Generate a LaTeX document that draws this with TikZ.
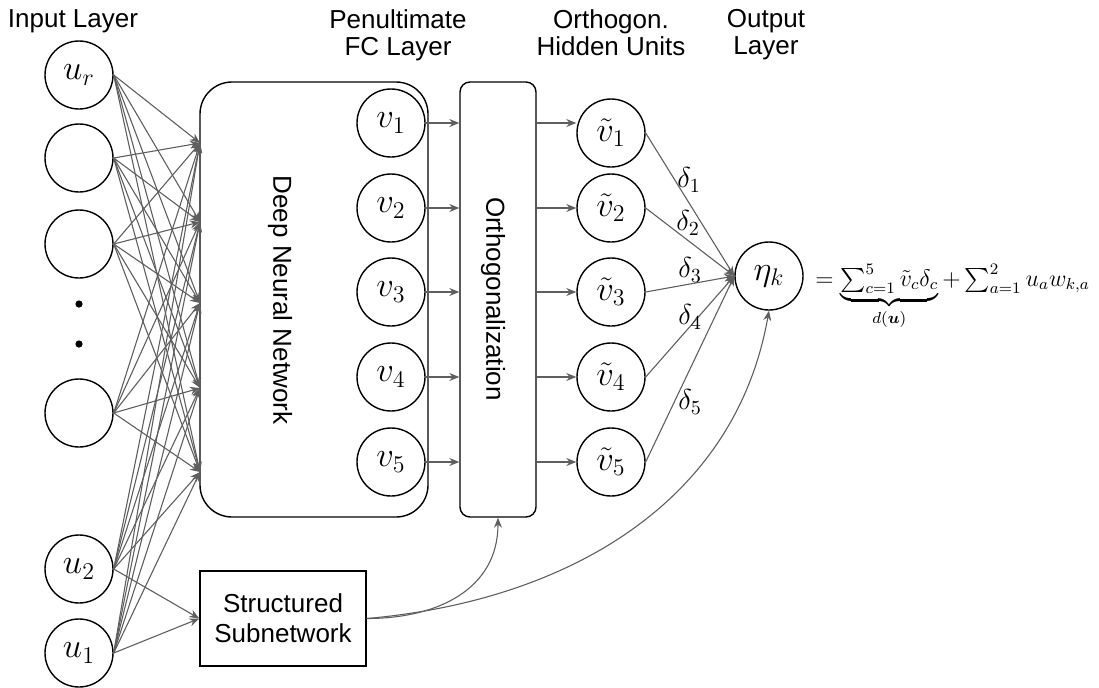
\documentclass[tikz,border=0pt]{standalone}
\usepackage[no-math]{fontspec}
\setmainfont{Liberation Sans}
\usepackage{amsmath}
\usetikzlibrary{arrows.meta}
\definecolor{linegray}{RGB}{95,95,95}

\tikzset{
    unit/.style={circle, draw, line width=0.7pt, minimum size=34pt, inner sep=0pt, font=\fontsize{17}{19}\selectfont},
    dot/.style={circle, fill, inner sep=0pt, minimum size=3.6pt},
    conn/.style={draw=linegray, line width=0.55pt, -{Stealth[length=5pt,width=4pt]}},
    dnnbox/.style={draw, line width=0.7pt, rounded corners=16pt},
    orthbox/.style={draw, line width=0.7pt, rounded corners=5pt},
    ssbox/.style={draw, line width=0.7pt, align=center, minimum width=83pt, minimum height=47.5pt, inner sep=0pt, font=\fontsize{13}{15}\selectfont},
    hdr/.style={anchor=north, align=center, inner sep=0pt, font=\fontsize{13}{13.5}\selectfont},
    lbl/.style={inner sep=0pt, font=\fontsize{14.5}{16}\selectfont},
    eqn/.style={inner sep=0pt, anchor=base west, font=\fontsize{12}{14}\selectfont},
    boxtext/.style={rotate=-90, inner sep=0pt, font=\fontsize{13}{15}\selectfont},
}

\begin{document}
\begin{tikzpicture}[x=0.5pt, y=-0.5pt]
    \useasboundingbox (0,0) rectangle (1099,687);

    % column headings
    \node[hdr] (hin) at (73,9) {Input Layer};
    \node[hdr] (hfc) at (398,9) {Penultimate\\FC Layer};
    \node[hdr] (horth) at (611,9) {Orthogon.\\Hidden Units};
    \node[hdr] (hout) at (766,9) {Output\\Layer};

    % input layer
    \node[unit] (ur) at (79,75) {$u_r$};
    \node[unit] (ia) at (79,158) {};
    \node[unit] (ib) at (79,244) {};
    \node[dot] (dot1) at (79,304) {};
    \node[dot] (dot2) at (79,344) {};
    \node[unit] (ic) at (79,413) {};
    \node[unit] (u2) at (79,569) {$u_2$};
    \node[unit] (u1) at (79,653) {$u_1$};

    % deep neural network
    \node[dnnbox, minimum width=114pt, minimum height=217.5pt] (dnn) at (314,299.5) {};
    \node[boxtext] (dnnlabel) at (280,300) {Deep Neural Network};

    \foreach \y [count=\i] in {143,222,303,388,472}
        \coordinate (h\i) at (200,\y);
    \foreach \s in {ur,ia,ib,ic,u2,u1}
        \foreach \i in {1,...,5}
            \draw[conn] (\s.east) -- (h\i);

    % penultimate FC layer
    \foreach \y [count=\i] in {123,208,292,377,462}
        \node[unit] (v\i) at (391,\y) {$v_\i$};

    % orthogonalization
    \node[orthbox, minimum width=38pt, minimum height=217.5pt] (orth) at (498,299.5) {};
    \node[boxtext] (orthlabel) at (493,299) {Orthogonalization};

    \foreach \y [count=\i] in {133,208,292,377,462}
        \node[unit] (vt\i) at (611,\y) {$\tilde{v}_\i$};

    \foreach \i in {1,...,5} {
        \draw[conn] (v\i.east) -- (v\i.east -| orth.west);
        \draw[conn] (v\i -| orth.east) -- (v\i -| vt\i.west);
    }

    % output layer
    \node[unit] (eta) at (769,276) {$\eta_k$};
    \foreach \i in {1,...,5}
        \draw[conn] (vt\i.east) -- (eta.west);

    \node[lbl] (d1) at (689,180) {$\delta_1$};
    \node[lbl] (d2) at (688,223) {$\delta_2$};
    \node[lbl] (d3) at (690,270) {$\delta_3$};
    \node[lbl] (d4) at (690,317) {$\delta_4$};
    \node[lbl] (d5) at (690,402) {$\delta_5$};

    \node[eqn] (eq) at (815,286) {$= \underbrace{\textstyle\sum_{c=1}^{5} \tilde{v}_c\delta_c}_{d(\boldsymbol{u})} + \sum_{a=1}^{2} u_a w_{k,a}$};

    % structured subnetwork
    \node[ssbox] (ss) at (283,618.5) {Structured\\Subnetwork};
    \draw[conn] (u2.east) -- (ss.west);
    \draw[conn] (u1.east) -- (ss.west);
    \draw[conn] (ss.east) to[out=0, in=-90, looseness=1.1] (orth.south);
    \draw[conn] (ss.east) to[out=5, in=-100] (eta.south);
\end{tikzpicture}
\end{document}
